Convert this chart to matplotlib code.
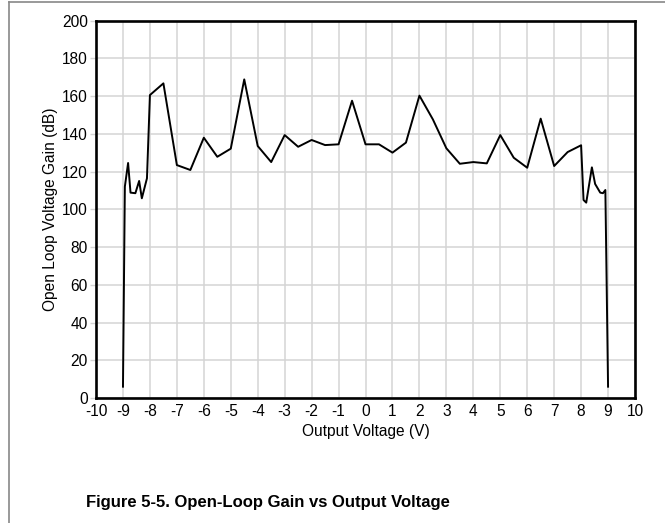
import matplotlib; matplotlib.use('Agg')
import matplotlib.pyplot as plt
from matplotlib.lines import Line2D

plt.rcParams['font.family'] = ['Liberation Sans', 'DejaVu Sans']
plt.rcParams['axes.unicode_minus'] = False

# output voltage (V) and open-loop gain (dB)
vout = [-9.0, -8.93, -8.81, -8.72, -8.54, -8.40, -8.30, -8.11, -8.0, -7.5, -7.0, -6.5,
        -6.0, -5.5, -5.0, -4.5, -4.0, -3.5, -3.0, -2.5, -2.0, -1.5, -1.0, -0.5,
        0.0, 0.5, 1.0, 1.5, 2.0, 2.5, 3.0, 3.5, 4.0, 4.5, 5.0, 5.5, 6.0, 6.5,
        7.0, 7.5, 8.0, 8.09, 8.19, 8.4, 8.52, 8.71, 8.81, 8.9, 9.0]
gain = [6, 112, 124.5, 108.8, 108.5, 115, 105.8, 116.4, 160.5, 166.7, 123.4, 120.8,
        137.9, 127.8, 132.1, 168.8, 133.5, 125, 139.3, 133.1, 136.7, 134, 134.4, 157.5,
        134.4, 134.4, 130, 135.3, 160.2, 147.6, 132.3, 124.1, 125, 124.3, 139.3, 127.3, 122, 148,
        122.9, 130.3, 133.9, 104.9, 103.5, 122.2, 113.4, 108.8, 108.5, 110.2, 6]

xticks = list(range(-10, 11))
yticks = list(range(0, 201, 20))

fig = plt.figure(figsize=(6.65, 5.23), dpi=100)
ax = fig.add_axes([0.1444, 0.2390, 0.8105, 0.7218])

ax.plot(vout, gain, color='black', lw=1.4, zorder=3)
ax.set_xlim(-10, 10)
ax.set_ylim(0, 200)
ax.set_xticks(xticks)
ax.set_yticks(yticks)
ax.grid(True, color='#d4d4d4', lw=1.1)
ax.set_axisbelow(True)
for s in ax.spines.values():
    s.set_linewidth(1.9)
ax.tick_params(axis='x', length=0, pad=4, labelsize=11.2)
ax.tick_params(axis='y', length=4, color='#d4d4d4', width=1, pad=2, labelsize=11.2)
ax.set_xlabel('Output Voltage (V)', fontsize=11.2, labelpad=4)
ax.set_ylabel('Open Loop Voltage Gain (dB)', fontsize=11.2, labelpad=3)

# page frame lines
fig.add_artist(Line2D([8.5/665, 8.5/665], [0, 1 - 1.5/523], transform=fig.transFigure,
                      color='#888888', lw=1.2))
fig.add_artist(Line2D([8.5/665, 1], [1 - 1.5/523, 1 - 1.5/523], transform=fig.transFigure,
                      color='#888888', lw=1.2))

fig.text(268/665, 1 - 502/523, 'Figure 5-5. Open-Loop Gain vs Output Voltage',
         ha='center', va='center', fontsize=12, fontweight='bold')

fig.savefig('out.png', dpi=100)
